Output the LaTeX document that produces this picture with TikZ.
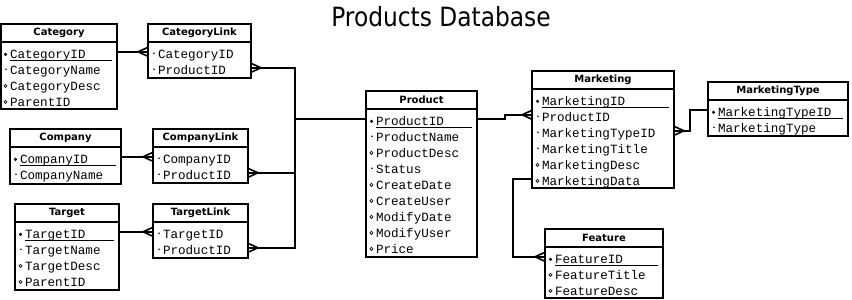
\documentclass[tikz,border=0pt]{standalone}
\usepackage{fontspec}
\usepackage{tikz}
\usetikzlibrary{positioning, calc}

\newfontfamily\titfont[FakeStretch=0.88]{DejaVu Sans}
\newfontfamily\cabfont{DejaVu Sans}
\newfontfamily\campofont{Liberation Mono}

\begin{document}
\begin{tikzpicture}[
	x=1pt, y=-1pt,
	tabla/.style={draw, line width=1.6pt, anchor=north west, inner sep=0pt, outer sep=0pt},
	cabecera/.style={draw, line width=1.2pt, anchor=north, minimum height=18pt, inner sep=0pt, outer sep=0pt, font=\cabfont\bfseries\fontsize{10pt}{12pt}\selectfont},
	campo/.style={anchor=base west, inner sep=0pt, outer sep=0pt, text height=6.5pt, text depth=2pt, font=\campofont\fontsize{12.6pt}{14pt}\selectfont},
	pk/.style={label={[circle, fill, inner sep=0pt, text height=0pt, text depth=0pt, minimum size=3.4pt, anchor=center, xshift=-4.5pt, yshift=-2.5pt]north west:{}}},
	ob/.style={label={[circle, fill, inner sep=0pt, text height=0pt, text depth=0pt, minimum size=1.8pt, anchor=center, xshift=-4pt, yshift=-1.5pt]north west:{}}},
	op/.style={label={[circle, draw, line width=0.6pt, inner sep=0pt, text height=0pt, text depth=0pt, minimum size=3.2pt, anchor=center, xshift=-4.5pt, yshift=-2pt]north west:{}}},
	subrayado/.style={line width=0.8pt},
	enlace/.style={line width=1.6pt},
	pics/pata/.style={code={\draw[enlace] (-10,0) -- (0,-4.5) (-10,0) -- (0,4.5);}}
	]
	
	\useasboundingbox (0,0) rectangle (852,300);
	
	% Titulo
	\node[font=\titfont\fontsize{26.5pt}{30pt}\selectfont, anchor=base] (titulo) at (441,26.7) {Products Database};
	
	% Category
	\node[tabla, minimum width=116pt, minimum height=85pt] (category) at (1,24) {};
	\node[cabecera, minimum width=116pt] (category-h) at (category.north) {Category};
	\node[campo, pk] (cat-id) at ([xshift=9pt, yshift=-16.3pt]category-h.south west) {CategoryID};
	\node[campo, ob] (cat-name) at ([yshift=-16pt]cat-id.base west) {CategoryName};
	\node[campo, op] (cat-desc) at ([yshift=-16pt]cat-name.base west) {CategoryDesc};
	\node[campo, op] (cat-parent) at ([yshift=-16pt]cat-desc.base west) {ParentID};
	\draw[subrayado] ([yshift=-2pt]cat-id.base west) -- ([xshift=-5pt, yshift=-2pt]cat-id.base west -| category.east);
	
	% CategoryLink
	\node[tabla, minimum width=103pt, minimum height=54pt] (catlink) at (148,24) {};
	\node[cabecera, minimum width=103pt] (catlink-h) at (catlink.north) {CategoryLink};
	\node[campo, ob] (catl-cid) at ([xshift=10pt, yshift=-16.3pt]catlink-h.south west) {CategoryID};
	\node[campo, ob] (catl-pid) at ([yshift=-16pt]catl-cid.base west) {ProductID};
	
	% Company
	\node[tabla, minimum width=111pt, minimum height=55pt] (company) at (10,129) {};
	\node[cabecera, minimum width=111pt] (company-h) at (company.north) {Company};
	\node[campo, pk] (cmp-id) at ([xshift=10pt, yshift=-16.3pt]company-h.south west) {CompanyID};
	\node[campo, ob] (cmp-name) at ([yshift=-16pt]cmp-id.base west) {CompanyName};
	\draw[subrayado] ([yshift=-2pt]cmp-id.base west) -- ([xshift=-5pt, yshift=-2pt]cmp-id.base west -| company.east);
	
	% CompanyLink
	\node[tabla, minimum width=95pt, minimum height=54pt] (complink) at (153,129) {};
	\node[cabecera, minimum width=95pt] (complink-h) at (complink.north) {CompanyLink};
	\node[campo, ob] (cmpl-cid) at ([xshift=10pt, yshift=-16.3pt]complink-h.south west) {CompanyID};
	\node[campo, ob] (cmpl-pid) at ([yshift=-16pt]cmpl-cid.base west) {ProductID};
	
	% Target
	\node[tabla, minimum width=104pt, minimum height=86pt] (target) at (15,204) {};
	\node[cabecera, minimum width=104pt] (target-h) at (target.north) {Target};
	\node[campo, pk] (tgt-id) at ([xshift=10pt, yshift=-16.3pt]target-h.south west) {TargetID};
	\node[campo, ob] (tgt-name) at ([yshift=-16pt]tgt-id.base west) {TargetName};
	\node[campo, op] (tgt-desc) at ([yshift=-16pt]tgt-name.base west) {TargetDesc};
	\node[campo, op] (tgt-parent) at ([yshift=-16pt]tgt-desc.base west) {ParentID};
	\draw[subrayado] ([yshift=-2pt]tgt-id.base west) -- ([xshift=-5pt, yshift=-2pt]tgt-id.base west -| target.east);
	
	% TargetLink
	\node[tabla, minimum width=95pt, minimum height=54pt] (tgtlink) at (153,204) {};
	\node[cabecera, minimum width=95pt] (tgtlink-h) at (tgtlink.north) {TargetLink};
	\node[campo, ob] (tgtl-tid) at ([xshift=10pt, yshift=-16.3pt]tgtlink-h.south west) {TargetID};
	\node[campo, ob] (tgtl-pid) at ([yshift=-16pt]tgtl-tid.base west) {ProductID};
	
	% Product
	\node[tabla, minimum width=111pt, minimum height=166pt] (product) at (366,91) {};
	\node[cabecera, minimum width=111pt] (product-h) at (product.north) {Product};
	\node[campo, pk] (prod-id) at ([xshift=10pt, yshift=-16.3pt]product-h.south west) {ProductID};
	\node[campo, ob] (prod-name) at ([yshift=-16pt]prod-id.base west) {ProductName};
	\node[campo, op] (prod-desc) at ([yshift=-16pt]prod-name.base west) {ProductDesc};
	\node[campo, ob] (prod-status) at ([yshift=-16pt]prod-desc.base west) {Status};
	\node[campo, op] (prod-cdate) at ([yshift=-16pt]prod-status.base west) {CreateDate};
	\node[campo, op] (prod-cuser) at ([yshift=-16pt]prod-cdate.base west) {CreateUser};
	\node[campo, op] (prod-mdate) at ([yshift=-16pt]prod-cuser.base west) {ModifyDate};
	\node[campo, op] (prod-muser) at ([yshift=-16pt]prod-mdate.base west) {ModifyUser};
	\node[campo, op] (prod-price) at ([yshift=-16pt]prod-muser.base west) {Price};
	\draw[subrayado] ([yshift=-2pt]prod-id.base west) -- ([xshift=-5pt, yshift=-2pt]prod-id.base west -| product.east);
	
	% Marketing
	\node[tabla, minimum width=142pt, minimum height=117pt] (marketing) at (532,71) {};
	\node[cabecera, minimum width=142pt] (marketing-h) at (marketing.north) {Marketing};
	\node[campo, pk] (mkt-id) at ([xshift=10pt, yshift=-16.3pt]marketing-h.south west) {MarketingID};
	\node[campo, ob] (mkt-pid) at ([yshift=-16pt]mkt-id.base west) {ProductID};
	\node[campo, ob] (mkt-tid) at ([yshift=-16pt]mkt-pid.base west) {MarketingTypeID};
	\node[campo, ob] (mkt-title) at ([yshift=-16pt]mkt-tid.base west) {MarketingTitle};
	\node[campo, op] (mkt-desc) at ([yshift=-16pt]mkt-title.base west) {MarketingDesc};
	\node[campo, op] (mkt-data) at ([yshift=-16pt]mkt-desc.base west) {MarketingData};
	\draw[subrayado] ([yshift=-2pt]mkt-id.base west) -- ([xshift=-5pt, yshift=-2pt]mkt-id.base west -| marketing.east);
	
	% MarketingType
	\node[tabla, minimum width=140pt, minimum height=54pt] (mkttype) at (708,82) {};
	\node[cabecera, minimum width=140pt] (mkttype-h) at (mkttype.north) {MarketingType};
	\node[campo, pk] (mtt-id) at ([xshift=10pt, yshift=-16.3pt]mkttype-h.south west) {MarketingTypeID};
	\node[campo, ob] (mtt-type) at ([yshift=-16pt]mtt-id.base west) {MarketingType};
	\draw[subrayado] ([yshift=-2pt]mtt-id.base west) -- ([xshift=-5pt, yshift=-2pt]mtt-id.base west -| mkttype.east);
	
	% Feature
	\node[tabla, minimum width=118pt, minimum height=69pt] (feature) at (545,229) {};
	\node[cabecera, minimum width=118pt] (feature-h) at (feature.north) {Feature};
	\node[campo, pk] (feat-id) at ([xshift=10pt, yshift=-16.3pt]feature-h.south west) {FeatureID};
	\node[campo, op] (feat-title) at ([yshift=-16pt]feat-id.base west) {FeatureTitle};
	\node[campo, op] (feat-desc) at ([yshift=-16pt]feat-title.base west) {FeatureDesc};
	\draw[subrayado] ([yshift=-2pt]feat-id.base west) -- ([xshift=-5pt, yshift=-2pt]feat-id.base west -| feature.east);
	
	% Codos
	\coordinate (bus) at (295,0);
	\coordinate (codo1) at (505,0);
	\coordinate (codo2) at (690,0);
	\coordinate (codo3) at (513,0);
	
	% Enlaces izquierda
	\draw[enlace] (category.east |- catl-cid.north) -- (catlink.west |- catl-cid.north);
	\draw[enlace] (company.east |- cmpl-cid.north) -- (complink.west |- cmpl-cid.north);
	\draw[enlace] (target.east |- tgtl-tid.north) -- (tgtlink.west |- tgtl-tid.north);
	\pic at (catlink.west |- catl-cid.north) {pata};
	\pic at (complink.west |- cmpl-cid.north) {pata};
	\pic at (tgtlink.west |- tgtl-tid.north) {pata};
	
	% Hacia Product
	\draw[enlace] (catlink.east |- catl-pid.north) -| (bus |- tgtl-pid.north) -- (tgtlink.east |- tgtl-pid.north);
	\draw[enlace] (complink.east |- cmpl-pid.north) -- (bus |- cmpl-pid.north);
	\draw[enlace] (bus |- prod-id.north) -- (product.west |- prod-id.north);
	\pic[xscale=-1] at (catlink.east |- catl-pid.north) {pata};
	\pic[xscale=-1] at (complink.east |- cmpl-pid.north) {pata};
	\pic[xscale=-1] at (tgtlink.east |- tgtl-pid.north) {pata};
	
	% Marketing
	\draw[enlace] (product.east |- prod-id.north) -- (codo1 |- prod-id.north) |- (marketing.west |- mkt-pid.north);
	\pic at (marketing.west |- mkt-pid.north) {pata};
	\draw[enlace] (marketing.east |- mkt-tid.north) -- (codo2 |- mkt-tid.north) |- (mkttype.west |- mtt-id.north);
	\pic[xscale=-1] at (marketing.east |- mkt-tid.north) {pata};
	\draw[enlace] (marketing.west |- mkt-data.north) -- (codo3 |- mkt-data.north) |- (feature.west |- feat-id.north);
	\pic at (feature.west |- feat-id.north) {pata};
	
\end{tikzpicture}
\end{document}
